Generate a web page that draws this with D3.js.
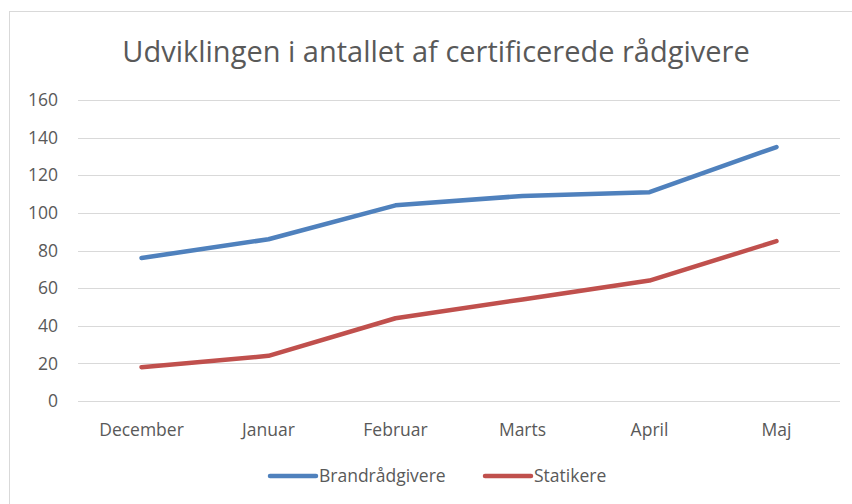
<!DOCTYPE html>
<html>
<head>
<meta charset="utf-8">
<script src="https://cdn.jsdelivr.net/npm/d3@7"></script>
<style>
  body { margin: 0; background: #fff; }
  text { font-family: "Open Sans", sans-serif; fill: #595959; }
</style>
</head>
<body>
<div id="graph_container"></div>
<script>
var months = ["December", "Januar", "Februar", "Marts", "April", "Maj"];
var brand = [76, 86, 104, 109, 111, 135];
var statik = [18, 24, 44, 54, 64, 85];
var seriesNames = ["Brandrådgivere", "Statikere"];
var yTicks = [0, 20, 40, 60, 80, 100, 120, 140, 160];

var W = 852, H = 504;
var margin = {top: 100, right: 12, bottom: 103, left: 78},
    w = W - margin.left - margin.right,
    h = H - margin.top - margin.bottom;

var svg = d3.select("#graph_container").append("svg")
    .attr("width", W)
    .attr("height", H);

// chart frame (runs off the right and bottom edges)
svg.append("rect")
    .attr("x", 9.5).attr("y", 11.5)
    .attr("width", 860).attr("height", 520)
    .attr("fill", "#fff")
    .attr("stroke", "#d9d9d9");

svg.append("text")
    .attr("x", 436).attr("y", 62)
    .attr("text-anchor", "middle")
    .style("font-size", "29px")
    .text("Udviklingen i antallet af certificerede rådgivere");

var g = svg.append("g")
    .attr("transform", "translate(" + margin.left + "," + margin.top + ")");

var xScale = d3.scaleBand().domain(months).range([0, w]);
var yScale = d3.scaleLinear().domain([0, 160]).range([h, 0]);

// gridlines
g.selectAll("line.grid")
    .data(yTicks)
    .enter().append("line")
    .attr("class", "grid")
    .attr("x1", 0).attr("x2", w)
    .attr("y1", function(d) { return Math.round(yScale(d)) + 0.5; })
    .attr("y2", function(d) { return Math.round(yScale(d)) + 0.5; })
    .attr("stroke", "#d9d9d9")
    .attr("stroke-width", 1);

// y labels
g.selectAll("text.ylab")
    .data(yTicks)
    .enter().append("text")
    .attr("class", "ylab")
    .attr("x", -20)
    .attr("y", function(d) { return yScale(d); })
    .attr("dy", "0.35em")
    .attr("text-anchor", "end")
    .style("font-size", "17.5px")
    .text(function(d) { return d; });

// x labels
g.selectAll("text.xlab")
    .data(months)
    .enter().append("text")
    .attr("class", "xlab")
    .attr("x", function(d) { return xScale(d) + xScale.bandwidth() / 2; })
    .attr("y", h + 35)
    .attr("text-anchor", "middle")
    .style("font-size", "17.5px")
    .text(function(d) { return d; });

var colors = ["#4f81bd", "#c0504d"];
var line = d3.line()
    .x(function(d, i) { return xScale(months[i]) + xScale.bandwidth() / 2; })
    .y(function(d) { return yScale(d); });

[brand, statik].forEach(function(s, k) {
    g.append("path")
        .datum(s)
        .attr("d", line)
        .attr("fill", "none")
        .attr("stroke", colors[k])
        .attr("stroke-width", 4.5)
        .attr("stroke-linecap", "round")
        .attr("stroke-linejoin", "round");
});

// legend
var legX = [268, 483];
seriesNames.forEach(function(name, k) {
    svg.append("line")
        .attr("x1", legX[k] + 2).attr("x2", legX[k] + 48)
        .attr("y1", 476).attr("y2", 476)
        .attr("stroke", colors[k])
        .attr("stroke-width", 4.5)
        .attr("stroke-linecap", "round");
    svg.append("text")
        .attr("x", legX[k] + 51)
        .attr("y", 476)
        .attr("dy", "0.35em")
        .style("font-size", "17.5px")
        .text(name);
});
</script>
</body>
</html>
